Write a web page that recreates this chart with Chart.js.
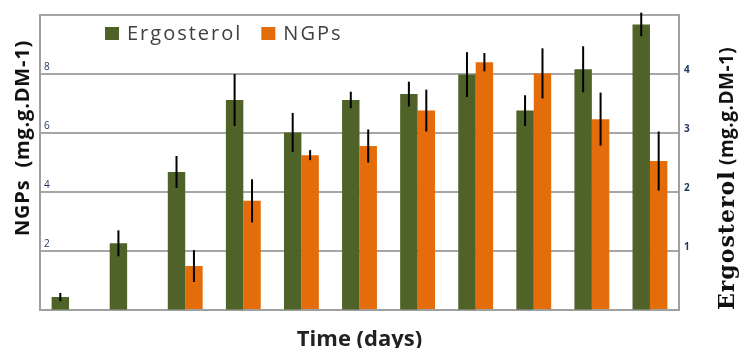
<!DOCTYPE html>
<html>
<head>
<meta charset="utf-8">
<script src="https://cdn.jsdelivr.net/npm/chart.js@4/dist/chart.umd.min.js"></script>
<style>
    html, body { margin: 0; padding: 0; background: #fff; }
    #wrap { width: 741px; height: 348px; }
</style>
</head>
<body>
<div id="wrap"><canvas id="chart" width="741" height="348"></canvas></div>
<script>
// sampling times (no tick labels shown on the original)
const days = ['1', '2', '3', '4', '5', '6', '7', '8', '9', '10', '11'];

// Ergosterol (right axis) and its error
const ergosterol = [0.22, 1.13, 2.34, 3.56, 3.01, 3.56, 3.66, 3.99, 3.38, 4.08, 4.84];
const ergosterolErr = [0.07, 0.22, 0.27, 0.44, 0.33, 0.14, 0.21, 0.38, 0.26, 0.39, 0.20];

// NGPs (left axis) and its error
const ngps = [null, null, 1.49, 3.70, 5.25, 5.56, 6.76, 8.40, 8.02, 6.47, 5.05];
const ngpsErr = [null, null, 0.54, 0.73, 0.17, 0.56, 0.71, 0.31, 0.85, 0.90, 1.00];

const leftTicks = [2, 4, 6, 8];
const rightTicks = [1, 2, 3, 4];

const errors = [ergosterolErr, ngpsErr];

const errorBars = {
    id: 'errorBars',
    afterDatasetsDraw(chart) {
        const ctx = chart.ctx;
        ctx.save();
        ctx.strokeStyle = '#000';
        ctx.lineWidth = 2;
        chart.data.datasets.forEach((ds, i) => {
            const meta = chart.getDatasetMeta(i);
            const scale = chart.scales[ds.yAxisID];
            meta.data.forEach((bar, j) => {
                const v = ds.data[j];
                const e = errors[i][j];
                if (v == null || e == null) return;
                ctx.beginPath();
                ctx.moveTo(bar.x, scale.getPixelForValue(v + e));
                ctx.lineTo(bar.x, scale.getPixelForValue(v - e));
                ctx.stroke();
            });
        });
        ctx.restore();
    }
};

// legend inside the plot and the two vertical axis titles
const decorations = {
    id: 'decorations',
    afterDraw(chart) {
        const ctx = chart.ctx;
        const area = chart.chartArea;
        ctx.save();

        // legend
        ctx.font = '20px "Open Sans"';
        ctx.letterSpacing = '2px';
        ctx.textBaseline = 'middle';
        let x = area.left + 65;
        const y = area.top + 18;
        chart.data.datasets.forEach(ds => {
            ctx.fillStyle = ds.backgroundColor;
            ctx.fillRect(x, y - 6, 14, 13);
            ctx.fillStyle = '#404040';
            ctx.fillText(ds.label, x + 22, y + 1);
            x += 22 + ctx.measureText(ds.label).width + 19;
        });
        ctx.letterSpacing = '0px';

        // left title
        ctx.fillStyle = '#111';
        ctx.save();
        ctx.translate(23, 138);
        ctx.rotate(-Math.PI / 2);
        ctx.textAlign = 'center';
        ctx.font = 'bold 20px "Open Sans"';
        ctx.letterSpacing = '0.8px';
        ctx.fillText('NGPs  (mg.g.DM-1)', 0, 0);
        ctx.restore();

        // right title, serif word followed by sans units
        ctx.save();
        ctx.translate(728, 310);
        ctx.rotate(-Math.PI / 2);
        ctx.textAlign = 'left';
        ctx.font = 'bold 22px "DejaVu Serif"';
        ctx.letterSpacing = '1px';
        ctx.fillText('Ergosterol', 0, 0);
        const w = ctx.measureText('Ergosterol').width;
        ctx.font = 'bold 19px "Open Sans"';
        ctx.letterSpacing = '0.5px';
        ctx.fillText(' (mg.g.DM-1)', w, 0);
        ctx.restore();

        ctx.restore();
    }
};

new Chart(document.getElementById('chart'), {
    type: 'bar',
    data: {
        labels: days,
        datasets: [
            {
                label: 'Ergosterol',
                data: ergosterol,
                backgroundColor: '#4f6228',
                yAxisID: 'yRight',
                categoryPercentage: 0.6,
                barPercentage: 1.0
            },
            {
                label: 'NGPs',
                data: ngps,
                backgroundColor: '#e46c0a',
                yAxisID: 'yLeft',
                categoryPercentage: 0.6,
                barPercentage: 1.0
            }
        ]
    },
    options: {
        responsive: false,
        animation: false,
        layout: { padding: { top: 15 } },
        plugins: {
            legend: { display: false },
            tooltip: { enabled: false }
        },
        scales: {
            x: {
                grid: { display: false },
                border: { color: '#a0a0a0', width: 2 },
                ticks: { display: false },
                title: {
                    display: true,
                    text: 'Time (days)',
                    color: '#222',
                    font: { family: 'Open Sans', size: 22, weight: 'bold', lineHeight: 0.75 },
                    padding: { top: 0, bottom: 0 }
                },
                afterFit: s => { s.height = 38; }
            },
            yLeft: {
                position: 'left',
                min: 0,
                max: 10,
                grid: { color: '#a6a6a6', lineWidth: 2, drawTicks: false },
                border: { color: '#a0a0a0', width: 2 },
                afterBuildTicks: s => { s.ticks = [0, ...leftTicks, 10].map(v => ({ value: v })); },
                ticks: {
                    mirror: true,
                    padding: 4,
                    labelOffset: -7,
                    color: '#203864',
                    font: { family: 'Open Sans', size: 10 },
                    callback: v => leftTicks.includes(v) ? v : ''
                },
                afterFit: s => { s.width = 40; }
            },
            yRight: {
                position: 'right',
                min: 0,
                max: 5,
                grid: { drawOnChartArea: false, drawTicks: false },
                border: { color: '#a0a0a0', width: 2 },
                afterBuildTicks: s => { s.ticks = [0, ...rightTicks, 5].map(v => ({ value: v })); },
                ticks: {
                    padding: 5,
                    labelOffset: -4,
                    color: '#203864',
                    font: { family: 'Open Sans', size: 10, weight: 'bold' },
                    callback: v => rightTicks.includes(v) ? v : ''
                },
                afterFit: s => { s.width = 62; }
            }
        }
    },
    plugins: [errorBars, decorations]
});
</script>
</body>
</html>
